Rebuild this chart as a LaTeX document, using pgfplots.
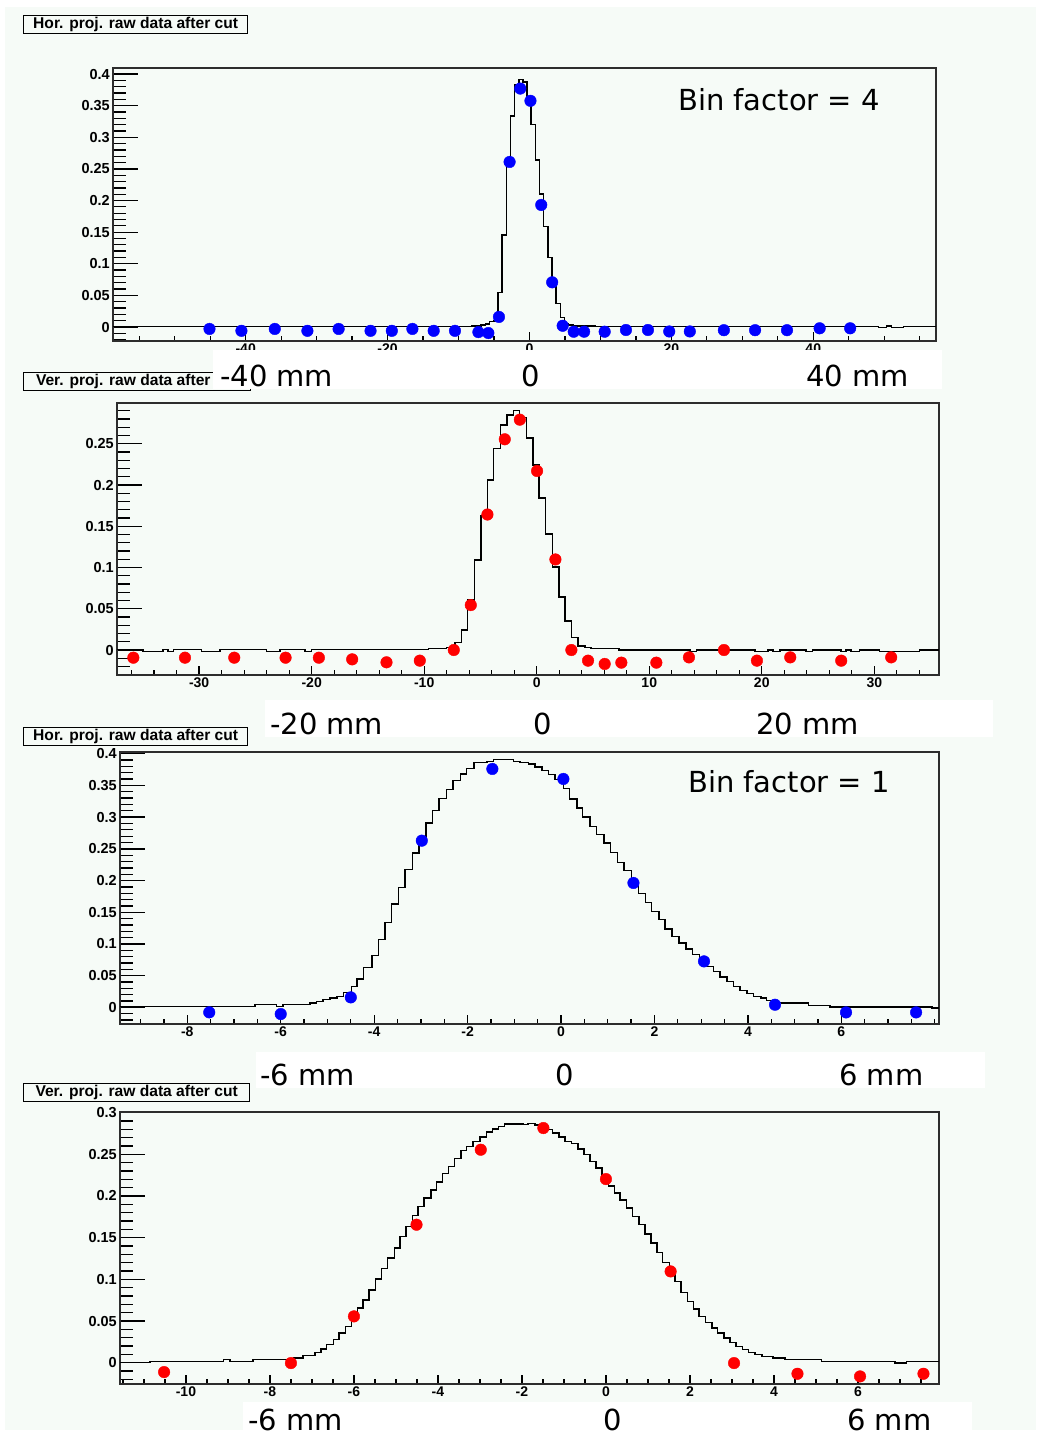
\documentclass[border=0pt]{standalone}
\usepackage{pgfplots}
\pgfplotsset{compat=1.18}
\usepackage{fontspec}
\setmainfont{DejaVu Sans}
\newfontfamily\rootb{Liberation Sans}
\definecolor{bgc}{RGB}{246,251,247}
\definecolor{framec}{RGB}{45,45,45}
\definecolor{mblue}{RGB}{0,0,255}
\definecolor{mred}{RGB}{255,0,0}
\pgfplotsset{
  rootaxis/.style={
    scale only axis, anchor=north west,
    axis line style={draw=framec, line width=1.4pt},
    tick align=inside, tick pos=left,
    major tick style={black, line width=1.3pt},
    minor tick style={black, line width=1.3pt},
    xtick style={/pgfplots/major tick length=9pt,/pgfplots/minor tick length=5pt},
    ytick style={/pgfplots/major tick length=25pt,/pgfplots/minor tick length=13pt},
    xticklabel style={font=\rootb\bfseries\fontsize{14}{14}\selectfont, inner sep=2.5pt},
    yticklabel style={font=\rootb\bfseries\fontsize{14.5}{14.5}\selectfont, inner sep=3pt},
  },
  hist/.style={const plot, draw=black, line width=1.5pt, mark=none},
  bluepts/.style={only marks, mark=*, mark size=5.8pt, mark options={fill=mblue, draw=mblue}},
  redpts/.style={only marks, mark=*, mark size=5.8pt, mark options={fill=mred, draw=mred}},
}
\begin{document}
\begin{tikzpicture}
\fill[white] (0pt,0pt) rectangle (1039pt,-1436pt);
\fill[bgc] (5pt,-7pt) rectangle (1036pt,-1430pt);

% ---------------- Panel 1 ----------------
\begin{axis}[rootaxis, at={(113pt,-68pt)}, width=823pt, height=273pt,
  xmin=-58.7, xmax=57.3, ymin=-0.0221, ymax=0.4095,
  xtick={-40,-20,0,20,40}, xticklabels={-40,-20,0,20,40},
  minor xtick={-55,-50,...,55},
  ytick={0,0.05,0.1,0.15,0.2,0.25,0.3,0.35,0.4},
  yticklabels={0,0.05,0.1,0.15,0.2,0.25,0.3,0.35,0.4},
  minor ytick={-0.02,-0.01,0.01,0.02,0.03,0.04,0.06,0.07,0.08,0.09,0.11,0.12,0.13,0.14,0.16,0.17,0.18,0.19,0.21,0.22,0.23,0.24,0.26,0.27,0.28,0.29,0.31,0.32,0.33,0.34,0.36,0.37,0.38,0.39}]
\addplot[hist] table {
-58.7 0.0005
-8.1 0.002
-6.8 0.003
-6.2 0.005
-5.62 0.0085
-5.03 0.0095
-4.44 0.0543
-3.86 0.1455
-3.27 0.264
-2.69 0.334
-2.10 0.383
-1.51 0.391
-0.93 0.387
-0.34 0.362
0.25 0.320
0.83 0.264
1.42 0.210
2.00 0.159
2.59 0.110
3.18 0.0717
3.76 0.0374
4.35 0.0153
4.94 0.0058
5.52 0.0032
6.11 0.0016
9.3 0.0008
49.2 -0.0011
50.35 0.0016
51.06 -0.0011
52.7 0.0005
57.3 0.0005
};
\addplot[bluepts] table {
-45.1 -0.003
-40.6 -0.006
-35.9 -0.003
-31.3 -0.006
-26.9 -0.003
-22.4 -0.006
-19.4 -0.006
-16.5 -0.003
-13.5 -0.006
-10.5 -0.006
-7.2 -0.008
-5.8 -0.0095
-4.3 0.016
-2.8 0.261
-1.3 0.377
0.14 0.3576
1.66 0.193
3.2 0.0707
4.68 0.002
6.24 -0.0074
7.7 -0.0074
10.6 -0.0074
13.6 -0.0047
16.7 -0.0047
19.7 -0.007
22.6 -0.007
27.4 -0.005
31.8 -0.005
36.3 -0.005
40.9 -0.002
45.2 -0.002
};
\end{axis}

% ---------------- Panel 2 ----------------
\begin{axis}[rootaxis, at={(117pt,-403pt)}, width=822pt, height=272pt,
  xmin=-37.3, xmax=35.75, ymin=-0.0303, ymax=0.2995,
  xtick={-30,-20,-10,0,10,20,30}, xticklabels={-30,-20,-10,0,10,20,30},
  minor xtick={-36,-34,...,34},
  ytick={0,0.05,0.1,0.15,0.2,0.25,0.3},
  yticklabels={0,0.05,0.1,0.15,0.2,0.25,0.3},
  minor ytick={-0.03,-0.02,-0.01,0.01,0.02,0.03,0.04,0.06,0.07,0.08,0.09,0.11,0.12,0.13,0.14,0.16,0.17,0.18,0.19,0.21,0.22,0.23,0.24,0.26,0.27,0.28,0.29}]
\addplot[hist] table {
-37.3 0.0005
-34.98 -0.0015
-33.2 0.0005
-32.75 -0.0015
-32.3 0.0005
-29.8 -0.0015
-28.16 0.0005
-24.0 -0.0015
-22.83 0.0005
-20.6 -0.0015
-20.0 0.0005
-9.64 0.002
-8.0 0.003
-7.28 0.0093
-6.70 0.0242
-6.13 0.0605
-5.55 0.109
-4.97 0.1625
-4.39 0.2062
-3.82 0.2446
-3.24 0.2728
-2.66 0.2849
-2.08 0.2902
-1.51 0.282
-0.93 0.2573
-0.35 0.2244
0.22 0.1844
0.80 0.1406
1.38 0.1009
1.96 0.0642
2.53 0.0353
3.11 0.0149
3.69 0.005
4.27 0.003
4.84 0.002
7.3 0.0
13.6 -0.002
14.2 0.0
19.4 -0.002
20.55 0.0
21.0 -0.002
21.6 0.0
23.95 -0.002
24.5 0.0
27.06 -0.002
27.5 0.0
27.95 -0.002
28.7 0.0
30.46 -0.002
34.0 0.0
35.75 0.0
};
\addplot[redpts] table {
-35.85 -0.0093
-31.26 -0.0093
-26.88 -0.0093
-22.32 -0.0093
-19.36 -0.0093
-16.4 -0.0113
-13.35 -0.0149
-10.39 -0.0129
-7.37 0.0
-5.86 0.0545
-4.38 0.1643
-2.84 0.2555
-1.5 0.2793
0.03 0.2171
1.66 0.1098
3.08 0.0
4.56 -0.0129
6.04 -0.0169
7.52 -0.0153
10.63 -0.0153
13.53 -0.0089
16.64 0.0
19.57 -0.0129
22.53 -0.0089
27.06 -0.0129
31.5 -0.0089
};
\end{axis}

% ---------------- Panel 3 ----------------
\begin{axis}[rootaxis, at={(120pt,-752pt)}, width=819pt, height=272pt,
  xmin=-9.44, xmax=8.09, ymin=-0.0262, ymax=0.4027,
  xtick={-8,-6,-4,-2,0,2,4,6}, xticklabels={-8,-6,-4,-2,0,2,4,6},
  minor xtick={-9,-8.5,...,8},
  ytick={0,0.05,0.1,0.15,0.2,0.25,0.3,0.35,0.4},
  yticklabels={0,0.05,0.1,0.15,0.2,0.25,0.3,0.35,0.4},
  minor ytick={-0.02,-0.01,0.01,0.02,0.03,0.04,0.06,0.07,0.08,0.09,0.11,0.12,0.13,0.14,0.16,0.17,0.18,0.19,0.21,0.22,0.23,0.24,0.26,0.27,0.28,0.29,0.31,0.32,0.33,0.34,0.36,0.37,0.38,0.39}]
\addplot[hist] table {
-9.44 0.0016
-6.55 0.0042
-6.09 0.0016
-5.95 0.0042
-5.37 0.0068
-5.23 0.0095
-5.09 0.0121
-4.95 0.0147
-4.80 0.0174
-4.66 0.0237
-4.48 0.0331
-4.37 0.0447
-4.23 0.0631
-4.05 0.082
-3.91 0.1068
-3.77 0.134
-3.63 0.163
-3.48 0.189
-3.34 0.2172
-3.18 0.2435
-3.04 0.2634
-2.89 0.2908
-2.75 0.3107
-2.61 0.3292
-2.45 0.3434
-2.31 0.3576
-2.15 0.3681
-2.02 0.3765
-1.86 0.3865
-1.59 0.3881
-1.45 0.3905
-1.02 0.388
-0.88 0.3865
-0.70 0.3839
-0.56 0.3791
-0.41 0.3733
-0.27 0.367
-0.13 0.3591
0.05 0.345
0.18 0.3286
0.34 0.3145
0.46 0.3003
0.62 0.2855
0.76 0.2724
0.92 0.2593
1.06 0.2445
1.21 0.2287
1.35 0.2161
1.51 0.1962
1.66 0.1793
1.81 0.1656
1.94 0.1514
2.10 0.1383
2.23 0.1236
2.37 0.112
2.53 0.1015
2.67 0.0921
2.81 0.0831
2.96 0.0726
3.10 0.0647
3.26 0.0568
3.40 0.0479
3.55 0.041
3.69 0.0331
3.83 0.0268
3.98 0.0216
4.12 0.0174
4.28 0.0148
4.40 0.011
4.56 0.0079
4.73 0.0069
5.30 0.0032
5.76 0.0006
7.94 -0.0011
8.09 -0.0011
};
\addplot[bluepts] table {
-7.53 -0.0078
-6.0 -0.0105
-4.50 0.0158
-2.98 0.2629
-1.47 0.376
0.05 0.3602
1.55 0.1962
3.06 0.0726
4.58 0.0042
6.10 -0.0079
7.60 -0.0079
};
\end{axis}

% ---------------- Panel 4 ----------------
\begin{axis}[rootaxis, at={(120pt,-1112pt)}, width=819pt, height=272pt,
  xmin=-11.57, xmax=7.93, ymin=-0.0255, ymax=0.3006,
  xtick={-10,-8,-6,-4,-2,0,2,4,6}, xticklabels={-10,-8,-6,-4,-2,0,2,4,6},
  minor xtick={-11.5,-11,...,7.5},
  ytick={0,0.05,0.1,0.15,0.2,0.25,0.3},
  yticklabels={0,0.05,0.1,0.15,0.2,0.25,0.3},
  minor ytick={-0.02,-0.01,0.01,0.02,0.03,0.04,0.06,0.07,0.08,0.09,0.11,0.12,0.13,0.14,0.16,0.17,0.18,0.19,0.21,0.22,0.23,0.24,0.26,0.27,0.28,0.29}]
\addplot[hist] table {
-11.57 0.0004
-10.86 0.0016
-9.11 0.0036
-8.95 0.0016
-8.40 0.0036
-7.44 0.0056
-7.21 0.0084
-6.93 0.0124
-6.79 0.0164
-6.65 0.0216
-6.49 0.0276
-6.35 0.0356
-6.20 0.0436
-6.06 0.0548
-5.92 0.0656
-5.78 0.0755
-5.64 0.0875
-5.49 0.1003
-5.34 0.1127
-5.20 0.1255
-5.04 0.1375
-4.90 0.1515
-4.76 0.1635
-4.61 0.1763
-4.47 0.1874
-4.33 0.1974
-4.17 0.2074
-4.03 0.2166
-3.89 0.2266
-3.75 0.2354
-3.60 0.2446
-3.45 0.2542
-3.32 0.2594
-3.16 0.2654
-3.00 0.2706
-2.84 0.2766
-2.70 0.2802
-2.56 0.2834
-2.42 0.2862
-1.98 0.2858
-1.85 0.2866
-1.69 0.2850
-1.53 0.2814
-1.41 0.2794
-1.27 0.2754
-1.12 0.2706
-0.98 0.2654
-0.82 0.2626
-0.67 0.2562
-0.52 0.2494
-0.38 0.2414
-0.24 0.2334
-0.09 0.2242
0.06 0.2122
0.20 0.2034
0.33 0.1954
0.49 0.1855
0.63 0.1754
0.79 0.1655
0.93 0.1543
1.07 0.1435
1.21 0.1323
1.35 0.1203
1.51 0.1095
1.64 0.0975
1.79 0.0843
1.94 0.0735
2.08 0.0643
2.22 0.0556
2.37 0.0484
2.52 0.0416
2.66 0.0356
2.81 0.0296
2.95 0.0244
3.10 0.0196
3.25 0.0156
3.39 0.0124
3.55 0.0096
3.71 0.0076
3.98 0.0056
4.26 0.0036
5.13 0.0016
6.88 -0.0004
7.16 0.0016
7.93 0.0016
};
\addplot[redpts] table {
-10.52 -0.0112
-7.5 -0.0004
-6.0 0.0556
-4.51 0.1655
-2.98 0.2554
-1.49 0.2814
0.0 0.2202
1.54 0.1095
3.05 -0.0004
4.56 -0.0132
6.05 -0.0164
7.56 -0.0132
};
\end{axis}

% ---------------- title boxes ----------------
\tikzset{titlebox/.style={draw=black, line width=1.3pt, fill=bgc, anchor=north west,
  minimum width=224pt, minimum height=18pt, inner sep=0pt,
  font=\rootb\bfseries\fontsize{15.6}{15.6}\selectfont}}
\node[titlebox] at (23pt,-15pt) {Hor. proj. raw data after cut};
\node[titlebox, minimum width=227pt] at (23pt,-372pt) {Ver. proj. raw data after cut};
\node[titlebox] at (23pt,-727pt) {Hor. proj. raw data after cut};
\node[titlebox, minimum width=226pt] at (23pt,-1083pt) {Ver. proj. raw data after cut};

% ---------------- white label bands ----------------
\tikzset{mm/.style={anchor=base west, inner sep=0pt, font=\fontsize{29}{29}\selectfont}}
\fill[white] (213pt,-350pt) rectangle (942pt,-389pt);
\node[mm] at (220pt,-386pt) {-40 mm};
\node[mm] at (521pt,-386pt) {0};
\node[mm] at (806pt,-386pt) {40 mm};

\fill[white] (265pt,-700pt) rectangle (993pt,-737pt);
\node[mm] at (270pt,-734pt) {-20 mm};
\node[mm] at (533pt,-734pt) {0};
\node[mm] at (756pt,-734pt) {20 mm};

\fill[white] (256pt,-1052pt) rectangle (985pt,-1088pt);
\node[mm] at (260pt,-1085pt) {-6 mm};
\node[mm] at (555pt,-1085pt) {0};
\node[mm] at (839pt,-1085pt) {6 mm};

\fill[white] (243pt,-1402pt) rectangle (972pt,-1436pt);
\node[mm] at (248pt,-1430pt) {-6 mm};
\node[mm] at (603pt,-1430pt) {0};
\node[mm] at (847pt,-1430pt) {6 mm};

\node[mm] at (678pt,-110pt) {Bin factor = 4};
\node[mm] at (688pt,-792.7pt) {Bin factor = 1};

\pgfresetboundingbox
\path (0pt,0pt) rectangle (1039pt,-1436pt);
\end{tikzpicture}
\end{document}
